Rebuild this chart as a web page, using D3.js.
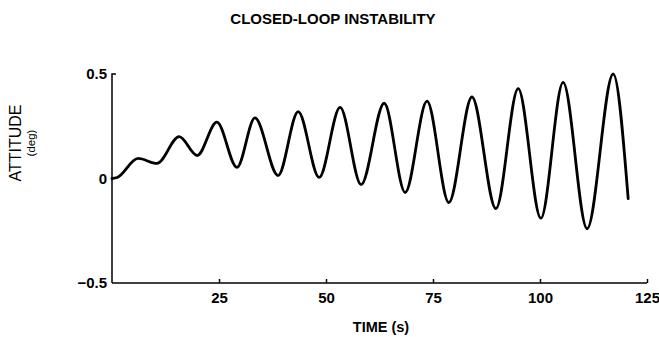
<!DOCTYPE html>
<html>
<head>
<meta charset="utf-8">
<script src="https://cdn.jsdelivr.net/npm/d3@7"></script>
<style>
  html, body { margin: 0; padding: 0; background: #fff; }
  svg { display: block; }
  text { font-family: "Liberation Sans", Arial, sans-serif; fill: #000; }
</style>
</head>
<body>
<svg id="chart" width="659" height="337"></svg>
<script>
// ---- data ----
const times = [0, 1.2, 6.1, 10.5, 15.7, 19.9, 24.5, 29.2, 33.4, 38.8, 43.5, 48.4, 53.3, 58.2,
               63.6, 68.5, 73.6, 78.7, 84.1, 89.7, 94.9, 100.2, 105.4, 111.0, 117.1, 120.6];
const attitude = [0, 0.005, 0.096, 0.072, 0.20, 0.11, 0.27, 0.053, 0.29, 0.014, 0.32, 0.005, 0.34, -0.029,
                  0.36, -0.067, 0.37, -0.115, 0.39, -0.144, 0.43, -0.19, 0.46, -0.24, 0.50, -0.096];
const xTicks = [25, 50, 75, 100, 125];
const yTicks = [-0.5, 0, 0.5];
const yTickLabels = ["\u22120.5", "0", "0.5"];
const title = "CLOSED-LOOP INSTABILITY";
const xTitle = "TIME (s)";
const yTitle = "ATTITUDE";
const yUnit = "(deg)";

// ---- layout ----
const svg = d3.select("#chart");
const x = d3.scaleLinear().domain([0, 125]).range([112, 647]);
const y = d3.scaleLinear().domain([-0.5, 0.5]).range([283, 74]);
const FONT = "'Liberation Sans', Arial, sans-serif";

// axes
const xAxis = d3.axisBottom(x).tickValues(xTicks).tickSize(-4).tickFormat(d3.format("d")).tickPadding(9);
const gx = svg.append("g").attr("transform", `translate(0,${y(-0.5)})`).call(xAxis);
gx.select(".domain").attr("d", `M${x(0)},0H${x(125)}`).attr("stroke", "#000").attr("stroke-width", 1.5);
gx.selectAll(".tick line").attr("stroke", "#000").attr("stroke-width", 1.5);
gx.selectAll(".tick text").attr("font-size", 15).attr("font-weight", "bold").attr("font-family", FONT);

const yAxis = d3.axisLeft(y).tickValues(yTicks).tickSize(0).tickPadding(5)
  .tickFormat((d, i) => yTickLabels[i]);
const gy = svg.append("g").attr("transform", `translate(${x(0)},0)`).call(yAxis);
gy.select(".domain").attr("d", `M0,${y(-0.5)}V${y(0.5)}h4`).attr("stroke", "#000").attr("stroke-width", 1.5).attr("fill", "none");
gy.selectAll(".tick text").attr("font-size", 15).attr("font-weight", "bold").attr("font-family", FONT);

// curve
const line = d3.line()
  .x((d, i) => x(times[i]))
  .y((d, i) => y(attitude[i]))
  .curve(d3.curveMonotoneX);
svg.append("path")
  .datum(attitude)
  .attr("d", line)
  .attr("fill", "none")
  .attr("stroke", "#000")
  .attr("stroke-width", 2.8)
  .attr("stroke-linejoin", "round")
  .attr("stroke-linecap", "round");

// titles
svg.append("text").attr("x", 333).attr("y", 24).attr("text-anchor", "middle")
  .attr("font-size", 15).attr("font-weight", "bold").text(title);
svg.append("text").attr("x", 381).attr("y", 332).attr("text-anchor", "middle")
  .attr("font-size", 14.5).attr("font-weight", "bold").text(xTitle);
svg.append("text").attr("transform", "translate(21,143) rotate(-90)").attr("text-anchor", "middle")
  .attr("font-size", 16).text(yTitle);
svg.append("text").attr("transform", "translate(35,143) rotate(-90)").attr("text-anchor", "middle")
  .attr("font-size", 11.5).text(yUnit);
</script>
</body>
</html>
